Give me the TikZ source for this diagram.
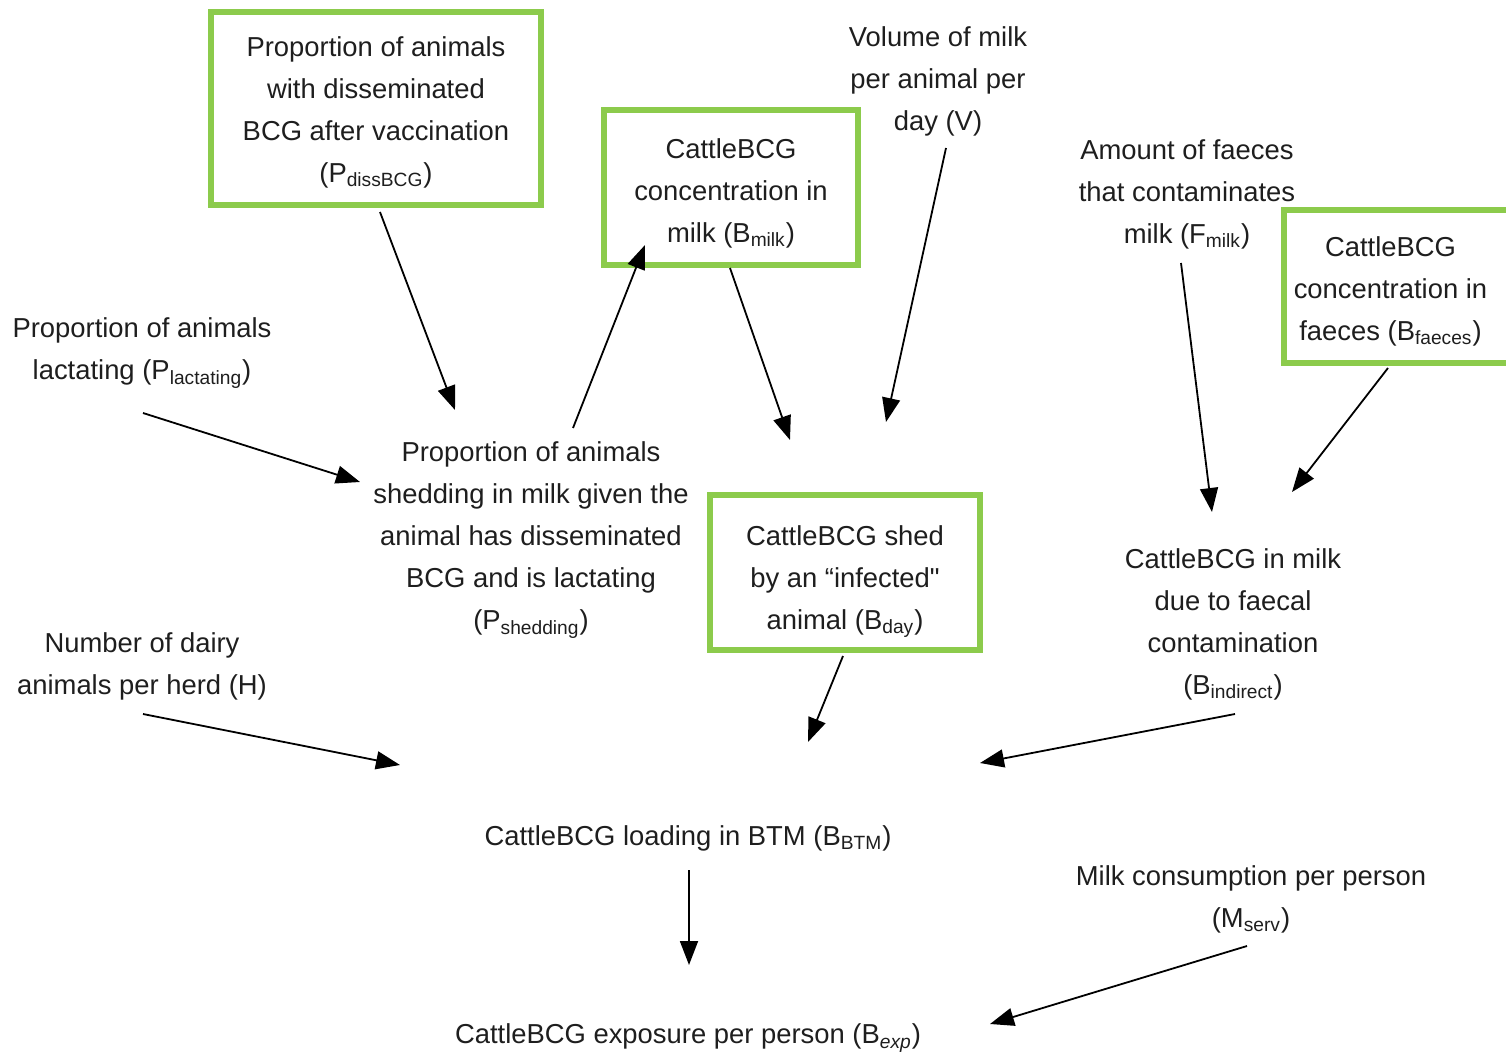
\documentclass[tikz,border=0pt]{standalone}
\usepackage{fontspec}
\setmainfont{Liberation Sans}
\usetikzlibrary{arrows.meta,calc}
\definecolor{boxgreen}{RGB}{140,203,76}
\definecolor{txt}{RGB}{30,30,30}
\begin{document}
\begin{tikzpicture}[x=0.5pt,y=-0.5pt,
  every node/.style={font=\fontsize{13.7}{21}\selectfont, text=txt, align=center, inner sep=0pt},
  gbox/.style={draw=boxgreen, line width=3pt},
  conn/.style={line width=0.9pt, -{Triangle[length=12pt,width=9pt]}}]
\useasboundingbox (0,0) rectangle (1506,1054);
% green boxes
\node[gbox, minimum width=165pt, minimum height=96.5pt] (diss) at (376,108.5) {};
\node[gbox, minimum width=127pt, minimum height=77.5pt] (bmilk) at (731,187.5) {};
\node[gbox, minimum width=112.5pt, minimum height=76.5pt] (bfaec) at (1396.5,286.5) {};
\node[gbox, minimum width=135pt, minimum height=77.5pt] (bday) at (845,572.5) {};
% texts inside the boxes
\node (disst) at ($(diss)+(0,4)$)
  {Proportion of animals\\with disseminated\\BCG after vaccination\\(P\textsubscript{dissBCG})};
\node (bmilkt) at ($(bmilk)+(0,6)$)
  {CattleBCG\\concentration in\\milk (B\textsubscript{milk})};
\node (bfaect) at ($(bfaec)+(-6,5)$)
  {CattleBCG\\concentration in\\faeces (B\textsubscript{faeces})};
\node (bdayt) at ($(bday)+(0,9)$)
  {CattleBCG shed\\by an “infected\textquotedbl\\animal (B\textsubscript{day})};
% plain text nodes
\node (vol) at (938,81) {Volume of milk\\per animal per\\day (V)};
\node (fmilk) at (1187,194) {Amount of faeces\\that contaminates\\milk (F\textsubscript{milk})};
\node (lact) at (142,353) {Proportion of animals\\lactating (P\textsubscript{lactating})};
\node (shed) at (531,540) {Proportion of animals\\shedding in milk given the\\animal has disseminated\\BCG and is lactating\\(P\textsubscript{shedding})};
\node (bind) at (1233,624) {CattleBCG in milk\\due to faecal\\contamination\\(B\textsubscript{indirect})};
\node (herd) at (142,666) {Number of dairy\\animals per herd (H)};
\node (btm) at (688,838) {CattleBCG loading in BTM (B\textsubscript{BTM})};
\node (mserv) at (1251,899) {Milk consumption per person\\(M\textsubscript{serv})};
\node (bexp) at (688,1038) {CattleBCG exposure per person (B\textsubscript{\itshape exp})};
% connectors
\draw[conn] ($(diss)+(4,103.5)$) -- ($(shed)+(-76,-130)$);
\draw[conn] ($(shed)+(42,-112)$) -- ($(bmilk)+(-86,57.5)$);
\draw[conn] ($(bmilk)+(-1,80.5)$) -- ($(bday)+(-55,-132.5)$);
\draw[conn] ($(vol)+(8,67)$) -- ($(bday)+(41,-150.5)$);
\draw[conn] ($(lact)+(1,60)$) -- ($(shed)+(-171,-58)$);
\draw[conn] ($(fmilk)+(-6,69)$) -- ($(bind)+(-21,-112)$);
\draw[conn] ($(bfaec)+(-8.5,81.5)$) -- ($(bind)+(59,-132)$);
\draw[conn] ($(bday)+(-2,83.5)$) -- ($(btm)+(120,-96)$);
\draw[conn] ($(herd)+(1,48)$) -- ($(btm)+(-288,-73)$);
\draw[conn] ($(bind)+(2,90)$) -- ($(btm)+(292,-75)$);
\draw[conn] ($(btm)+(1,32)$) -- ($(bexp)+(1,-73)$);
\draw[conn] ($(mserv)+(-4,47)$) -- ($(bexp)+(302,-14)$);
\end{tikzpicture}
\end{document}
